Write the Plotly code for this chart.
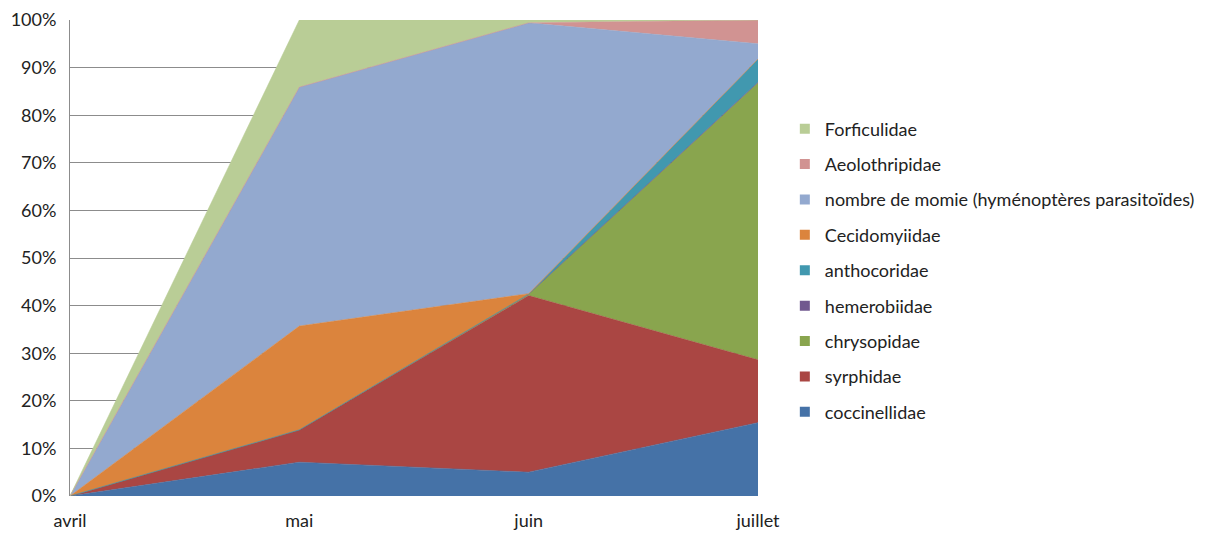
import plotly.graph_objects as go

months = ["avril", "mai", "juin", "juillet"]
y_ticks = [0, 10, 20, 30, 40, 50, 60, 70, 80, 90, 100]
y_tick_labels = ["0%", "10%", "20%", "30%", "40%", "50%", "60%", "70%", "80%", "90%", "100%"]

# share (%) of each family per month, bottom to top of the stack
coccinellidae = [0, 7.1, 5.0, 15.4]
syrphidae = [0, 6.8, 37.1, 13.2]
chrysopidae = [0, 0, 0.3, 58.2]
hemerobiidae = [0, 0, 0, 0.1]
anthocoridae = [0, 0, 0, 4.9]
cecidomyiidae = [0, 21.8, 0.1, 0]
momie = [0, 50.2, 56.9, 3.2]
aeolothripidae = [0, 0, 0, 5.0]
forficulidae = [0, 14.1, 0.6, 0]

series = [
    ("coccinellidae", coccinellidae, "#4572A7"),
    ("syrphidae", syrphidae, "#AA4643"),
    ("chrysopidae", chrysopidae, "#89A54E"),
    ("hemerobiidae", hemerobiidae, "#71588F"),
    ("anthocoridae", anthocoridae, "#4198AF"),
    ("Cecidomyiidae", cecidomyiidae, "#DB843D"),
    ("nombre de momie (hyménoptères parasitoïdes)", momie, "#93A9CF"),
    ("Aeolothripidae", aeolothripidae, "#D19392"),
    ("Forficulidae", forficulidae, "#B9CD96"),
]

fig = go.Figure()
xs = list(range(len(months)))
for name, vals, col in series:
    fig.add_trace(go.Scatter(
        x=xs, y=vals, name=name, mode="lines",
        stackgroup="one", fillcolor=col,
        line=dict(width=0.6, color=col),
        legendgroup=name, showlegend=False,
    ))
# square legend keys, top of stack first
for name, vals, col in reversed(series):
    fig.add_trace(go.Scatter(
        x=[None], y=[None], name=name, mode="markers",
        marker=dict(symbol="square", size=10, color=col),
        legendgroup=name, showlegend=True,
    ))

font = "Lato, Noto Sans, sans-serif"
fig.update_layout(
    width=1204, height=526,
    margin=dict(l=62, r=446, t=12, b=38),
    paper_bgcolor="white", plot_bgcolor="white",
    font=dict(family=font, size=18, color="#222222"),
    showlegend=True,
    legend=dict(
        traceorder="grouped", x=1.039, xanchor="left", y=0.81, yanchor="top",
        font=dict(size=18, color="#222222"), tracegroupgap=9,
        itemwidth=30, bgcolor="rgba(0,0,0,0)",
    ),
    xaxis=dict(
        range=[0, 3], tickmode="array", tickvals=xs, ticktext=months,
        showgrid=False, zeroline=False, showline=False, ticks="",
        tickfont=dict(size=18), ticklabelstandoff=12, automargin=False,
    ),
    yaxis=dict(
        range=[0, 100], tickmode="array", tickvals=y_ticks, ticktext=y_tick_labels,
        showgrid=True, gridcolor="#8c8c8c", gridwidth=1, zeroline=False,
        showline=True, linecolor="#8c8c8c", linewidth=1, ticks="",
        tickfont=dict(size=18), ticklabelstandoff=9, automargin=False,
    ),
)

fig.write_html("out.html")
